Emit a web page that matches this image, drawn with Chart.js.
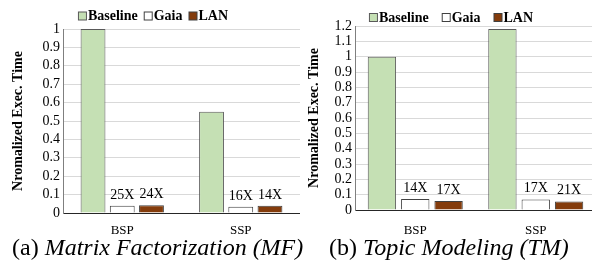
<!DOCTYPE html>
<html>
<head>
<meta charset="utf-8">
<script src="https://cdn.jsdelivr.net/npm/chart.js@4.4.1/dist/chart.umd.min.js"></script>
<style>
  html, body { margin: 0; padding: 0; background: #fff; overflow: hidden; }
  body { width: 592px; height: 263px; position: relative; font-family: "Liberation Serif", "Times New Roman", serif; }
  .box { position: absolute; top: 0; width: 300px; height: 240px; }
  .cap { position: absolute; top: 235px; font-size: 24px; line-height: 24px; color: #000; white-space: nowrap; }
  .cap i { font-style: italic; }
</style>
</head>
<body>
<div class="box" style="left:0"><canvas id="mf"></canvas></div>
<div class="box" style="left:296px"><canvas id="tm"></canvas></div>
<div class="cap" style="left:12px">(a) <i>Matrix Factorization (MF)</i></div>
<div class="cap" style="left:329px">(b) <i>Topic Modeling (TM)</i></div>
<script>
  var categories = ["BSP", "SSP"];
  var seriesNames = ["Baseline", "Gaia", "LAN"];

  // Matrix Factorization
  var mfBaseline = [1.0, 0.55];
  var mfGaia     = [0.04, 0.034];
  var mfLan      = [0.042, 0.039];
  var mfGaiaLabels = ["25X", "16X"];
  var mfLanLabels  = ["24X", "14X"];

  // Topic Modeling
  var tmBaseline = [1.0, 1.18];
  var tmGaia     = [0.071, 0.069];
  var tmLan      = [0.059, 0.056];
  var tmGaiaLabels = ["14X", "17X"];
  var tmLanLabels  = ["17X", "21X"];

  var serif = '"Liberation Serif", "Times New Roman", serif';

  // "25X" style labels over the Gaia and LAN bars
  var speedupLabels = {
    id: 'speedupLabels',
    afterDatasetsDraw: function(chart) {
      var ctx = chart.ctx;
      var lbls = chart.options.plugins.speedupLabels.labels;
      ctx.save();
      ctx.font = '14px ' + serif;
      ctx.fillStyle = '#000';
      ctx.textAlign = 'center';
      ctx.textBaseline = 'alphabetic';
      for (var d = 1; d <= 2; d++) {
        var meta = chart.getDatasetMeta(d);
        meta.data.forEach(function(bar, i) {
          ctx.fillText(lbls[d - 1][i], bar.x, bar.y - 7);
        });
      }
      ctx.restore();
    }
  };

  // compact legend like Excel's: small box, text right after it
  var tightLegend = {
    id: 'tightLegend',
    afterDraw: function(chart) {
      var o = chart.options.plugins.tightLegend;
      var ctx = chart.ctx;
      ctx.save();
      ctx.font = 'bold 14px ' + serif;
      ctx.textBaseline = 'middle';
      var items = chart.data.datasets.map(function(ds) {
        return { text: ds.label, fill: ds.backgroundColor, stroke: ds.borderColor, w: ctx.measureText(ds.label).width };
      });
      var box = 8, gap = 2, space = o.space;
      var total = 0;
      items.forEach(function(it, i) { total += box + gap + it.w + (i ? space : 0); });
      var x = o.cx - total / 2;
      items.forEach(function(it) {
        ctx.fillStyle = it.fill;
        ctx.strokeStyle = it.stroke;
        ctx.lineWidth = 1;
        ctx.fillRect(x + 0.5, o.cy - box / 2 + 0.5, box, box);
        ctx.strokeRect(x + 0.5, o.cy - box / 2 + 0.5, box, box);
        ctx.fillStyle = '#000';
        ctx.textAlign = 'left';
        ctx.fillText(it.text, x + box + gap, o.cy + 1);
        x += box + gap + it.w + space;
      });
      ctx.restore();
    }
  };

  function makeChart(id, values, labels, yMax, opts) {
    return new Chart(document.getElementById(id), {
      type: 'bar',
      data: {
        labels: categories,
        datasets: [
          { label: seriesNames[0], data: values[0], backgroundColor: '#c5e0b4', borderColor: '#595959', borderWidth: 1 },
          { label: seriesNames[1], data: values[1], backgroundColor: '#ffffff', borderColor: '#404040', borderWidth: 1 },
          { label: seriesNames[2], data: values[2], backgroundColor: '#843c0c', borderColor: '#404040', borderWidth: 1 }
        ]
      },
      plugins: [speedupLabels, tightLegend],
      options: {
        responsive: true,
        maintainAspectRatio: false,
        animation: false,
        datasets: { bar: { categoryPercentage: opts.catPct, barPercentage: 0.85 } },
        layout: { padding: { top: opts.padTop, right: 0, left: 0, bottom: 0 } },
        plugins: {
          speedupLabels: { labels: labels },
          tightLegend: { cx: opts.legendX, cy: opts.legendY, space: opts.legendSpace },
          tooltip: { enabled: false },
          legend: { display: false }
        },
        scales: {
          x: {
            grid: { display: false, drawTicks: false },
            border: { display: true, color: '#262626', width: 1 },
            ticks: { color: '#000', padding: opts.xPad, font: { family: serif, size: 13 } },
            afterFit: function(s) { s.height = opts.xHeight; }
          },
          y: {
            min: 0,
            max: yMax,
            grid: { color: '#d9d9d9', drawTicks: false },
            border: { display: true, color: '#7f7f7f', width: 1 },
            ticks: {
              stepSize: 0.1,
              autoSkip: false,
              color: '#000',
              padding: 3,
              font: { family: serif, size: 14 },
              callback: function(v) { return String(Math.round(v * 10) / 10); }
            },
            title: {
              display: true,
              text: 'Nromalized Exec. Time',
              color: '#000',
              padding: { top: 10, bottom: 0 },
              font: { family: serif, size: 14, weight: 'bold' }
            },
            afterFit: function(s) { s.width = opts.yWidth; }
          }
        }
      }
    });
  }

  makeChart('mf', [mfBaseline, mfGaia, mfLan], [mfGaiaLabels, mfLanLabels], 1.0,
    { padTop: 29, legendX: 153, legendY: 15.5, legendSpace: 6, xHeight: 27, xPad: 10, yWidth: 63, catPct: 0.74 });
  makeChart('tm', [tmBaseline, tmGaia, tmLan], [tmGaiaLabels, tmLanLabels], 1.2,
    { padTop: 26, legendX: 155, legendY: 17, legendSpace: 13, xHeight: 30, xPad: 13, yWidth: 59, catPct: 0.83 });
</script>
</body>
</html>
